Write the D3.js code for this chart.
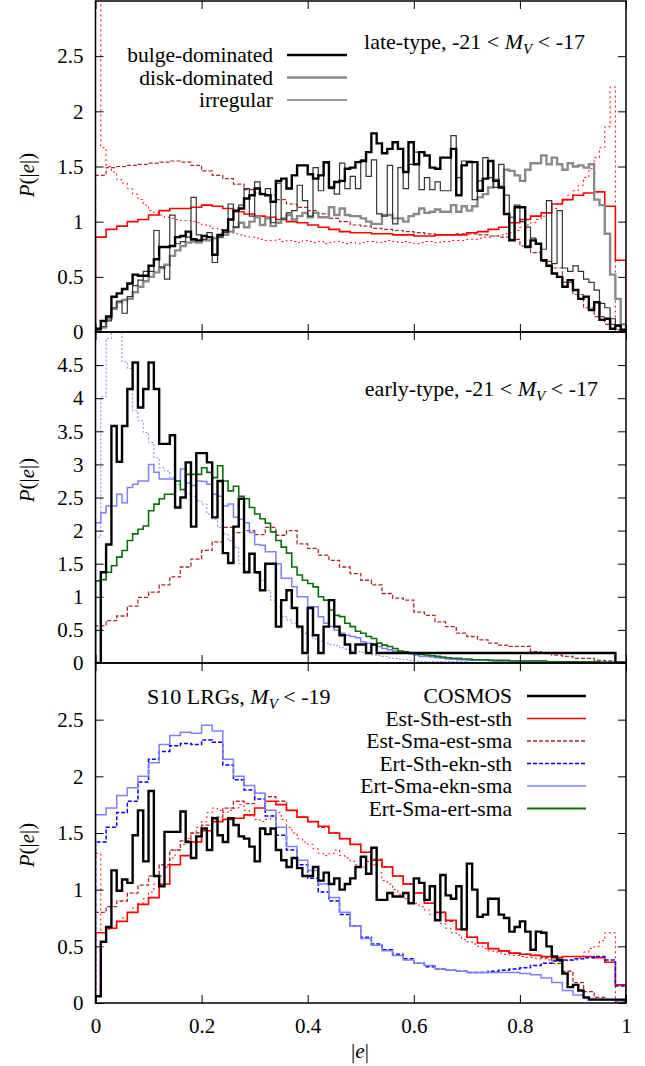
<!DOCTYPE html>
<html>
<head>
<meta charset="utf-8">
<script src="https://cdn.jsdelivr.net/npm/d3@7"></script>
<style>
  body { margin: 0; background: #fff; }
  svg { display: block; font-family: "Liberation Serif", "Times New Roman", serif; }
  svg text { font-family: "Liberation Serif", "Times New Roman", serif; }
</style>
</head>
<body>
<svg id="chart" width="645" height="1066"></svg>
<script>
// ---- data (bin heights, bins span |e| = 0..1 evenly) ----
const xTicks = [0, 0.2, 0.4, 0.6, 0.8, 1];
const yTicksTop = [0, 0.5, 1, 1.5, 2, 2.5];
const yTicksMid = [0, 0.5, 1, 1.5, 2, 2.5, 3, 3.5, 4, 4.5];
const yTicksBot = [0, 0.5, 1, 1.5, 2, 2.5];

// top panel: late-type
const lateBulge = [
  0.03, 0.10, 0.14, 0.32, 0.35, 0.39, 0.44, 0.52, 0.51, 0.51,
  0.60, 0.66, 0.77, 0.77, 0.78, 0.86, 0.87, 0.91, 0.84, 0.83,
  0.87, 0.86, 0.70, 0.88, 0.92, 1.02, 1.10, 1.12, 1.21, 1.24,
  1.30, 1.25, 1.24, 1.18, 1.37, 1.39, 1.30, 1.42, 1.51, 1.51,
  1.43, 1.39, 1.42, 1.54, 1.31, 1.36, 1.37, 1.48, 1.49, 1.54,
  1.55, 1.63, 1.80, 1.71, 1.62, 1.66, 1.72, 1.66, 1.45, 1.72,
  1.52, 1.63, 1.60, 1.49, 1.48, 1.58, 1.58, 1.66, 1.24, 1.51,
  1.54, 1.54, 1.28, 1.39, 1.55, 1.37, 1.31, 1.07, 0.83, 1.13,
  1.13, 0.77, 0.83, 0.80, 0.65, 0.60, 0.53, 0.50, 0.41, 0.47,
  0.38, 0.30, 0.32, 0.20, 0.27, 0.11, 0.12, 0.03, 0.06, 0.02
];
const lateDisk = [
  0.02, 0.04, 0.12, 0.21, 0.27, 0.29, 0.30, 0.36, 0.41, 0.46,
  0.50, 0.54, 0.58, 0.61, 0.69, 0.74, 0.78, 0.81, 0.82, 0.81,
  0.83, 0.83, 0.85, 0.86, 0.88, 0.91, 0.95, 0.99, 0.95, 1.00,
  1.04, 0.97, 1.03, 0.96, 0.99, 1.03, 1.06, 1.02, 1.05, 1.08,
  1.04, 1.08, 1.04, 1.04, 1.13, 1.06, 1.12, 1.06, 1.05, 1.05,
  1.03, 1.00, 0.98, 0.98, 1.06, 1.06, 1.03, 1.03, 1.00, 1.05,
  1.07, 1.12, 1.08, 1.09, 1.11, 1.09, 1.09, 1.15, 1.09, 1.14,
  1.10, 1.14, 1.22, 1.25, 1.31, 1.38, 1.32, 1.47, 1.46, 1.42,
  1.37, 1.47, 1.53, 1.53, 1.60, 1.52, 1.58, 1.52, 1.47, 1.53,
  1.50, 1.51, 1.49, 1.52, 1.20, 1.15, 0.89, 0.52, 0.30, 0.07
];
const lateIrregular = [
  0.02, 0.05, 0.10, 0.22, 0.28, 0.17, 0.32, 0.42, 0.47, 0.55,
  0.55, 0.92, 0.59, 0.48, 1.06, 0.80, 0.82, 0.86, 1.22, 0.88,
  0.84, 0.90, 0.63, 0.86, 0.90, 1.16, 0.95, 1.15, 1.30, 1.05,
  1.36, 1.25, 1.30, 0.99, 1.35, 1.02, 1.08, 1.10, 1.33, 1.19,
  1.05, 1.49, 1.28, 1.53, 1.30, 1.25, 1.53, 1.30, 1.41, 1.30,
  1.56, 1.41, 1.56, 1.07, 1.05, 1.51, 0.98, 1.49, 1.30, 1.52,
  1.63, 1.29, 1.40, 1.29, 1.36, 1.28, 1.28, 1.78, 1.40, 1.55,
  1.55, 1.20, 1.37, 1.58, 1.40, 1.31, 1.52, 1.24, 1.04, 1.15,
  1.00, 0.95, 0.85, 0.80, 0.75, 1.19, 0.62, 1.10, 0.58, 0.55,
  0.60, 0.55, 0.48, 0.45, 0.38, 0.26, 0.22, 0.12, 0.05, 0.02
];
const lateModelSolid = [
  0.86, 0.93, 0.96, 1.00, 1.02, 1.06, 1.10, 1.12, 1.12, 1.13,
  1.15, 1.14, 1.12, 1.09, 1.07, 1.05, 1.04, 1.02, 1.00, 0.99,
  0.97, 0.95, 0.93, 0.91, 0.90, 0.90, 0.89, 0.89, 0.88, 0.88,
  0.87, 0.87, 0.88, 0.88, 0.88, 0.90, 0.91, 0.93, 0.95, 0.99,
  1.02, 1.05, 1.08, 1.16, 1.20, 1.24, 1.26, 1.27, 1.14, 0.65
];
const lateModelDotted = [
  3.50, 1.67, 1.50, 1.45, 1.38, 1.35, 1.30, 1.25, 1.20, 1.15,
  1.10, 1.08, 1.06, 1.04, 1.03, 1.02, 1.01, 1.01, 1.00, 0.99,
  0.97, 0.96, 0.94, 0.93, 0.92, 0.90, 0.89, 0.88, 0.87, 0.86,
  0.85, 0.84, 0.83, 0.83, 0.84, 0.82, 0.83, 0.82, 0.81, 0.83,
  0.82, 0.81, 0.82, 0.80, 0.81, 0.82, 0.81, 0.80, 0.81, 0.80,
  0.81, 0.82, 0.82, 0.81, 0.82, 0.83, 0.82, 0.81, 0.82, 0.81,
  0.80, 0.81, 0.82, 0.82, 0.81, 0.82, 0.82, 0.83, 0.83, 0.83,
  0.84, 0.84, 0.85, 0.86, 0.86, 0.87, 0.88, 0.89, 0.90, 0.92,
  0.95, 0.97, 0.99, 1.02, 1.05, 1.08, 1.12, 1.16, 1.19, 1.24,
  1.28, 1.33, 1.40, 1.48, 1.58, 1.67, 1.86, 2.22, 0.00, 0.00
];
const lateModelDashed = [
  1.42, 1.49, 1.50, 1.51, 1.52, 1.53, 1.54, 1.55, 1.54, 1.51,
  1.46, 1.42, 1.39, 1.34, 1.29, 1.26, 1.24, 1.20, 1.16, 1.13,
  1.10, 1.07, 1.03, 1.00, 0.97, 0.96, 0.94, 0.93, 0.92, 0.91,
  0.90, 0.89, 0.88, 0.88, 0.89, 0.89, 0.88, 0.87, 0.86, 0.84,
  0.78, 0.72, 0.64, 0.58, 0.45, 0.34, 0.22, 0.14, 0.07, 0.02
];

// middle panel: early-type
const earlyObs = [
  0.00, 1.37, 1.79, 3.58, 3.04, 3.58, 4.14, 4.54, 3.86, 4.14,
  4.54, 4.14, 3.31, 3.31, 3.44, 2.35, 2.50, 3.03, 2.06, 3.17,
  3.17, 3.03, 2.20, 2.75, 1.66, 1.51, 2.06, 2.48, 1.37, 1.65,
  1.37, 1.10, 1.50, 1.50, 0.55, 0.95, 1.10, 0.83, 0.55, 0.15,
  0.83, 0.42, 0.15, 0.55, 0.95, 0.55, 0.42, 0.28, 0.15, 0.28,
  0.28, 0.15, 0.28, 0.15, 0.15, 0.15, 0.15, 0.15, 0.15, 0.15,
  0.15, 0.15, 0.15, 0.15, 0.15, 0.15, 0.15, 0.15, 0.15, 0.15,
  0.15, 0.15, 0.15, 0.15, 0.15, 0.15, 0.15, 0.15, 0.15, 0.15,
  0.15, 0.15, 0.15, 0.15, 0.15, 0.15, 0.15, 0.15, 0.15, 0.15,
  0.15, 0.15, 0.15, 0.15, 0.15, 0.15, 0.15, 0.15, 0.00, 0.00
];
const earlyBlueDotted = [
  1.90, 4.02, 4.90, 5.20, 5.20, 4.55, 4.45, 3.81, 3.66, 3.48,
  3.33, 3.10, 2.95, 2.90, 2.80, 2.70, 2.60, 2.56, 2.52, 2.45,
  2.40, 2.25, 2.17, 2.05, 1.95, 1.85, 1.75, 1.50, 1.40, 1.37,
  1.35, 1.25, 1.10, 0.95, 0.85, 0.70, 0.65, 0.60, 0.52, 0.45,
  0.42, 0.36, 0.33, 0.30, 0.28, 0.26, 0.23, 0.21, 0.18, 0.17,
  0.16, 0.15, 0.12, 0.11, 0.10, 0.08, 0.07, 0.06, 0.05, 0.04,
  0.03, 0.02, 0.02, 0.02, 0.02, 0.02, 0.02, 0.02, 0.02, 0.02,
  0.01, 0.01, 0.01, 0.01, 0.01, 0.01, 0.01, 0.01, 0.01, 0.01,
  0.01, 0.01, 0.01, 0.01, 0.01, 0.01, 0.01, 0.01, 0.01, 0.01,
  0.01, 0.01, 0.01, 0.01, 0.01, 0.01, 0.01, 0.01, 0.01, 0.01
];
const earlyBlueSolid = [
  2.12, 2.27, 2.37, 2.37, 2.55, 2.42, 2.65, 2.70, 2.75, 2.75,
  3.00, 2.88, 2.78, 2.78, 2.78, 2.75, 2.93, 2.72, 2.68, 2.75,
  2.74, 2.70, 2.55, 2.52, 2.37, 2.40, 2.20, 2.17, 2.12, 1.97,
  1.79, 1.78, 1.68, 1.68, 1.50, 1.28, 1.28, 1.15, 1.00, 1.00,
  0.85, 0.85, 0.70, 0.60, 0.55, 0.50, 0.45, 0.42, 0.40, 0.38,
  0.32, 0.30, 0.28, 0.25, 0.22, 0.20, 0.18, 0.16, 0.15, 0.14,
  0.12, 0.10, 0.10, 0.09, 0.08, 0.07, 0.06, 0.06, 0.05, 0.05,
  0.04, 0.04, 0.04, 0.04, 0.04, 0.03, 0.03, 0.03, 0.03, 0.03,
  0.03, 0.03, 0.03, 0.03, 0.03, 0.02, 0.02, 0.02, 0.02, 0.02,
  0.02, 0.02, 0.02, 0.02, 0.02, 0.01, 0.01, 0.01, 0.01, 0.01
];
const earlyGreen = [
  1.24, 1.26, 1.37, 1.47, 1.60, 1.70, 1.85, 1.95, 2.02, 2.07,
  2.30, 2.40, 2.48, 2.55, 2.55, 2.75, 2.62, 2.85, 2.85, 2.85,
  2.95, 2.88, 2.80, 2.98, 2.75, 2.60, 2.67, 2.52, 2.48, 2.35,
  2.25, 2.18, 2.11, 1.98, 1.85, 1.75, 1.66, 1.45, 1.33, 1.25,
  1.20, 1.15, 1.00, 0.95, 0.80, 0.72, 0.70, 0.60, 0.55, 0.48,
  0.45, 0.40, 0.37, 0.30, 0.27, 0.25, 0.22, 0.18, 0.17, 0.15,
  0.14, 0.13, 0.12, 0.11, 0.10, 0.09, 0.08, 0.07, 0.07, 0.06,
  0.06, 0.05, 0.05, 0.05, 0.04, 0.04, 0.04, 0.04, 0.03, 0.03,
  0.03, 0.03, 0.03, 0.03, 0.03, 0.02, 0.02, 0.02, 0.02, 0.02,
  0.02, 0.02, 0.02, 0.02, 0.02, 0.01, 0.01, 0.01, 0.01, 0.01
];
const earlyDashed = [
  0.56, 0.64, 0.71, 0.86, 0.99, 1.07, 1.18, 1.30, 1.45, 1.57,
  1.70, 1.83, 2.05, 1.97, 2.00, 1.94, 2.05, 1.93, 2.00, 1.80,
  1.73, 1.63, 1.55, 1.45, 1.35, 1.25, 1.18, 1.05, 0.98, 0.95,
  0.77, 0.72, 0.62, 0.55, 0.45, 0.40, 0.35, 0.30, 0.27, 0.25,
  0.25, 0.17, 0.15, 0.12, 0.10, 0.07, 0.07, 0.04, 0.03, 0.02
];

// bottom panel: S10 LRGs
const lrgCosmos = [
  0.06, 0.54, 0.67, 1.17, 0.99, 1.09, 1.06, 1.48, 1.70, 1.25,
  1.87, 1.12, 1.03, 1.51, 1.51, 1.51, 1.69, 1.42, 1.28, 1.47,
  1.54, 1.35, 1.63, 1.48, 1.42, 1.63, 1.57, 1.47, 1.45, 1.38,
  1.25, 1.54, 1.49, 1.54, 1.35, 1.26, 1.20, 1.28, 1.19, 1.12,
  1.12, 1.20, 1.08, 1.15, 1.05, 1.10, 1.00, 1.05, 1.10, 1.20,
  1.29, 1.14, 1.37, 0.91, 0.91, 0.97, 0.94, 0.94, 0.97, 0.88,
  1.10, 1.06, 0.91, 1.03, 0.73, 1.13, 0.95, 0.92, 1.03, 0.65,
  1.23, 1.00, 0.76, 0.78, 0.92, 0.92, 0.78, 0.75, 0.63, 0.67,
  0.72, 0.63, 0.47, 0.63, 0.62, 0.50, 0.41, 0.38, 0.26, 0.14,
  0.16, 0.11, 0.05, 0.03, 0.03, 0.03, 0.03, 0.03, 0.03, 0.03
];
const lrgEstSthEstSth = [
  0.62, 0.66, 0.72, 0.80, 0.87, 0.93, 1.05, 1.22, 1.30, 1.42,
  1.52, 1.60, 1.62, 1.63, 1.66, 1.72, 1.78, 1.75, 1.70, 1.64,
  1.60, 1.56, 1.50, 1.45, 1.40, 1.33, 1.26, 1.20, 1.12, 1.05,
  0.97, 0.88, 0.80, 0.73, 0.65, 0.58, 0.53, 0.48, 0.46, 0.44,
  0.43, 0.42, 0.41, 0.40, 0.41, 0.41, 0.41, 0.40, 0.36, 0.16
];
const lrgDotted = [
  1.32, 0.62, 0.65, 0.68, 0.72, 0.75, 0.80, 0.84, 0.88, 0.92,
  0.98, 1.05, 1.12, 1.20, 1.28, 1.35, 1.40, 1.45, 1.50, 1.55,
  1.60, 1.68, 1.72, 1.70, 1.68, 1.70, 1.72, 1.75, 1.70, 1.65,
  1.62, 1.60, 1.62, 1.65, 1.68, 1.62, 1.55, 1.50, 1.45, 1.42,
  1.40, 1.36, 1.32, 1.30, 1.32, 1.35, 1.30, 1.28, 1.25, 1.22,
  1.20, 1.25, 1.22, 1.15, 1.08, 1.05, 1.00, 0.96, 0.92, 0.90,
  0.88, 0.85, 0.82, 0.78, 0.74, 0.70, 0.66, 0.62, 0.60, 0.56,
  0.54, 0.52, 0.50, 0.48, 0.46, 0.45, 0.44, 0.43, 0.42, 0.42,
  0.41, 0.40, 0.40, 0.39, 0.39, 0.38, 0.38, 0.38, 0.37, 0.38,
  0.38, 0.40, 0.45, 0.48, 0.50, 0.55, 0.62, 0.62, 0.00, 0.00
];
const lrgEstSmaEstSma = [
  0.80, 0.85, 0.90, 0.97, 1.04, 1.12, 1.22, 1.35, 1.43, 1.50,
  1.57, 1.64, 1.72, 1.78, 1.76, 1.85, 1.82, 1.78, 1.70, 1.64,
  1.60, 1.55, 1.50, 1.45, 1.40, 1.33, 1.27, 1.20, 1.12, 1.05,
  0.97, 0.88, 0.80, 0.72, 0.65, 0.58, 0.53, 0.48, 0.46, 0.44,
  0.43, 0.42, 0.40, 0.35, 0.28, 0.18, 0.10, 0.05, 0.03, 0.01
];
const lrgErtSthEknSth = [
  1.42, 1.55, 1.68, 1.78, 1.95, 2.15, 2.22, 2.27, 2.29, 2.28,
  2.32, 2.30, 2.10, 1.97, 1.88, 1.80, 1.65, 1.48, 1.35, 1.22,
  1.10, 0.98, 0.90, 0.78, 0.68, 0.58, 0.52, 0.47, 0.43, 0.39,
  0.35, 0.32, 0.30, 0.29, 0.28, 0.27, 0.27, 0.28, 0.29, 0.30,
  0.31, 0.33, 0.35, 0.37, 0.38, 0.39, 0.40, 0.41, 0.38, 0.15
];
const lrgErtSmaEknSma = [
  1.66, 1.72, 1.83, 1.90, 2.00, 2.12, 2.28, 2.36, 2.39, 2.38,
  2.45, 2.40, 2.15, 2.00, 1.92, 1.85, 1.70, 1.55, 1.38, 1.26,
  1.17, 1.05, 0.93, 0.80, 0.68, 0.57, 0.51, 0.46, 0.42, 0.38,
  0.35, 0.33, 0.30, 0.29, 0.28, 0.27, 0.27, 0.27, 0.27, 0.27,
  0.26, 0.25, 0.22, 0.18, 0.11, 0.07, 0.04, 0.03, 0.03, 0.02
];

// ---- drawing ----
const SERIF = "'Liberation Serif', 'Times New Roman', serif";
const left = 95.5, right = 626;
const svg = d3.select("#chart");
const x = d3.scaleLinear().domain([0, 1]).range([left, right]);

const RED = "#ff0000", BROWN = "#a52a2a", BLUE = "#0000ff", LBLUE = "#8080ff", GREEN = "#0b6e0b";

const panels = [
  { top: 1, bottom: 332, max: 3, ticks: yTicksTop, series: [
      { v: lateModelDotted, color: RED, w: 1, dash: "2,3" },
      { v: lateModelDashed, color: BROWN, w: 1.2, dash: "4,2" },
      { v: lateModelSolid, color: RED, w: 1.6 },
      { v: lateDisk, color: "#8a8a8a", w: 2.4 },
      { v: lateIrregular, color: "#333", w: 1.2 },
      { v: lateBulge, color: "#000", w: 2.4 }
  ]},
  { top: 332, bottom: 663, max: 5, ticks: yTicksMid, series: [
      { v: earlyDashed, color: BROWN, w: 1.3, dash: "4,2" },
      { v: earlyBlueDotted, color: LBLUE, w: 1, dash: "2,2" },
      { v: earlyBlueSolid, color: LBLUE, w: 1.5 },
      { v: earlyGreen, color: GREEN, w: 1.6 },
      { v: earlyObs, color: "#000", w: 2.4 }
  ]},
  { top: 663, bottom: 1003, max: 3, ticks: yTicksBot, series: [
      { v: lrgDotted, color: RED, w: 1, dash: "2,3" },
      { v: lrgEstSmaEstSma, color: BROWN, w: 1.3, dash: "4,2" },
      { v: lrgEstSthEstSth, color: RED, w: 1.6 },
      { v: lrgErtSthEknSth, color: BLUE, w: 1.5, dash: "4,2" },
      { v: lrgErtSmaEknSma, color: LBLUE, w: 1.5 },
      { v: lrgCosmos, color: "#000", w: 2.4 }
  ]}
];

function stepPoints(vals) {
  const bw = 1 / vals.length;
  const pts = [[0, 0]];
  vals.forEach((v, i) => pts.push([i * bw, v]));
  pts.push([1, vals[vals.length - 1]]);
  pts.push([1, 0]);
  return pts;
}

panels.forEach((p, k) => {
  const y = d3.scaleLinear().domain([0, p.max]).range([p.bottom, p.top]);

  svg.append("clipPath").attr("id", "clip" + k)
    .append("rect")
    .attr("x", left).attr("y", p.top)
    .attr("width", right - left).attr("height", p.bottom - p.top);

  const line = d3.line()
    .x(d => x(d[0]))
    .y(d => y(d[1]))
    .curve(d3.curveStepAfter);

  const g = svg.append("g").attr("clip-path", "url(#clip" + k + ")");
  p.series.forEach(s => {
    g.append("path")
      .attr("d", line(stepPoints(s.v)))
      .attr("fill", "none")
      .attr("stroke", s.color)
      .attr("stroke-width", s.w)
      .attr("stroke-dasharray", s.dash || null);
  });

  // axes with inward ticks on all four sides
  const ax = svg.append("g").attr("transform", "translate(" + left + ",0)")
    .call(d3.axisLeft(y).tickValues(p.ticks).tickSize(-8).tickPadding(12).tickFormat(d3.format("")));
  svg.append("g").attr("transform", "translate(" + right + ",0)")
    .call(d3.axisRight(y).tickValues(p.ticks).tickSize(-8).tickFormat(""));
  const bx = svg.append("g").attr("transform", "translate(0," + p.bottom + ")")
    .call(d3.axisBottom(x).tickValues(xTicks).tickSize(-8).tickPadding(15)
      .tickFormat(k === 2 ? d3.format("") : ""));
  svg.append("g").attr("transform", "translate(0," + p.top + ")")
    .call(d3.axisTop(x).tickValues(xTicks).tickSize(-8).tickFormat(""));

  svg.selectAll(".domain").remove();
  svg.selectAll(".tick line").attr("stroke", "#000").attr("stroke-width", 1);
  [ax, bx].forEach(a => {
    a.attr("font-family", null).attr("font-size", null);
    a.selectAll("text").attr("fill", "#000")
      .style("font-family", SERIF).style("font-size", "21px");
  });

  svg.append("rect")
    .attr("x", left).attr("y", p.top)
    .attr("width", right - left).attr("height", p.bottom - p.top)
    .attr("fill", "none").attr("stroke", "#000").attr("stroke-width", 1.5);
});

// y-axis labels
[175, 480, 845].forEach(cy => {
  const t = svg.append("text")
    .attr("transform", "translate(34," + cy + ") rotate(-90)")
    .attr("text-anchor", "middle")
    .style("font-family", SERIF).style("font-size", "21px");
  t.append("tspan").attr("font-style", "italic").text("P");
  t.append("tspan").text("(|");
  t.append("tspan").attr("font-style", "italic").text("e");
  t.append("tspan").text("|)");
});

// x-axis label
const xl = svg.append("text").attr("x", 360).attr("y", 1058)
  .attr("text-anchor", "middle")
  .style("font-family", SERIF).style("font-size", "21px");
xl.append("tspan").text("|");
xl.append("tspan").attr("font-style", "italic").text("e");
xl.append("tspan").text("|");

// panel titles with M_V subscript
function magText(xp, yp, anchor, before, after) {
  const t = svg.append("text").attr("x", xp).attr("y", yp)
    .attr("text-anchor", anchor).style("font-size", "22px");
  t.append("tspan").text(before);
  t.append("tspan").attr("font-style", "italic").text("M");
  t.append("tspan").attr("font-style", "italic").style("font-size", "15px").attr("dy", 5).text("V");
  t.append("tspan").attr("dy", -5).text(after);
}
magText(585, 49, "end", "late-type, -21 < ", " < -17");
magText(598, 396, "end", "early-type, -21 < ", " < -17");
magText(147, 704, "start", "S10 LRGs, ", " < -19");

// legends
const legTop = [
  { label: "bulge-dominated", color: "#000", w: 2.4 },
  { label: "disk-dominated", color: "#8a8a8a", w: 2.4 },
  { label: "irregular", color: "#777", w: 1.6 }
];
legTop.forEach((d, i) => {
  const yy = 55 + i * 22.5;
  svg.append("text").attr("x", 273).attr("y", yy + 7)
    .attr("text-anchor", "end").style("font-size", "21.5px").text(d.label);
  svg.append("line").attr("x1", 287).attr("x2", 347).attr("y1", yy).attr("y2", yy)
    .attr("stroke", d.color).attr("stroke-width", d.w);
});

const legBot = [
  { label: "COSMOS", color: "#000", w: 2.4 },
  { label: "Est-Sth-est-sth", color: RED, w: 1.6 },
  { label: "Est-Sma-est-sma", color: BROWN, w: 1.3, dash: "4,2" },
  { label: "Ert-Sth-ekn-sth", color: BLUE, w: 1.5, dash: "4,2" },
  { label: "Ert-Sma-ekn-sma", color: LBLUE, w: 1.5 },
  { label: "Ert-Sma-ert-sma", color: GREEN, w: 1.8 }
];
legBot.forEach((d, i) => {
  const yy = 696 + i * 22.5;
  svg.append("text").attr("x", 512).attr("y", yy + 7)
    .attr("text-anchor", "end").style("font-size", "21.5px").text(d.label);
  svg.append("line").attr("x1", 527).attr("x2", 586).attr("y1", yy).attr("y2", yy)
    .attr("stroke", d.color).attr("stroke-width", d.w)
    .attr("stroke-dasharray", d.dash || null);
});
</script>
</body>
</html>
